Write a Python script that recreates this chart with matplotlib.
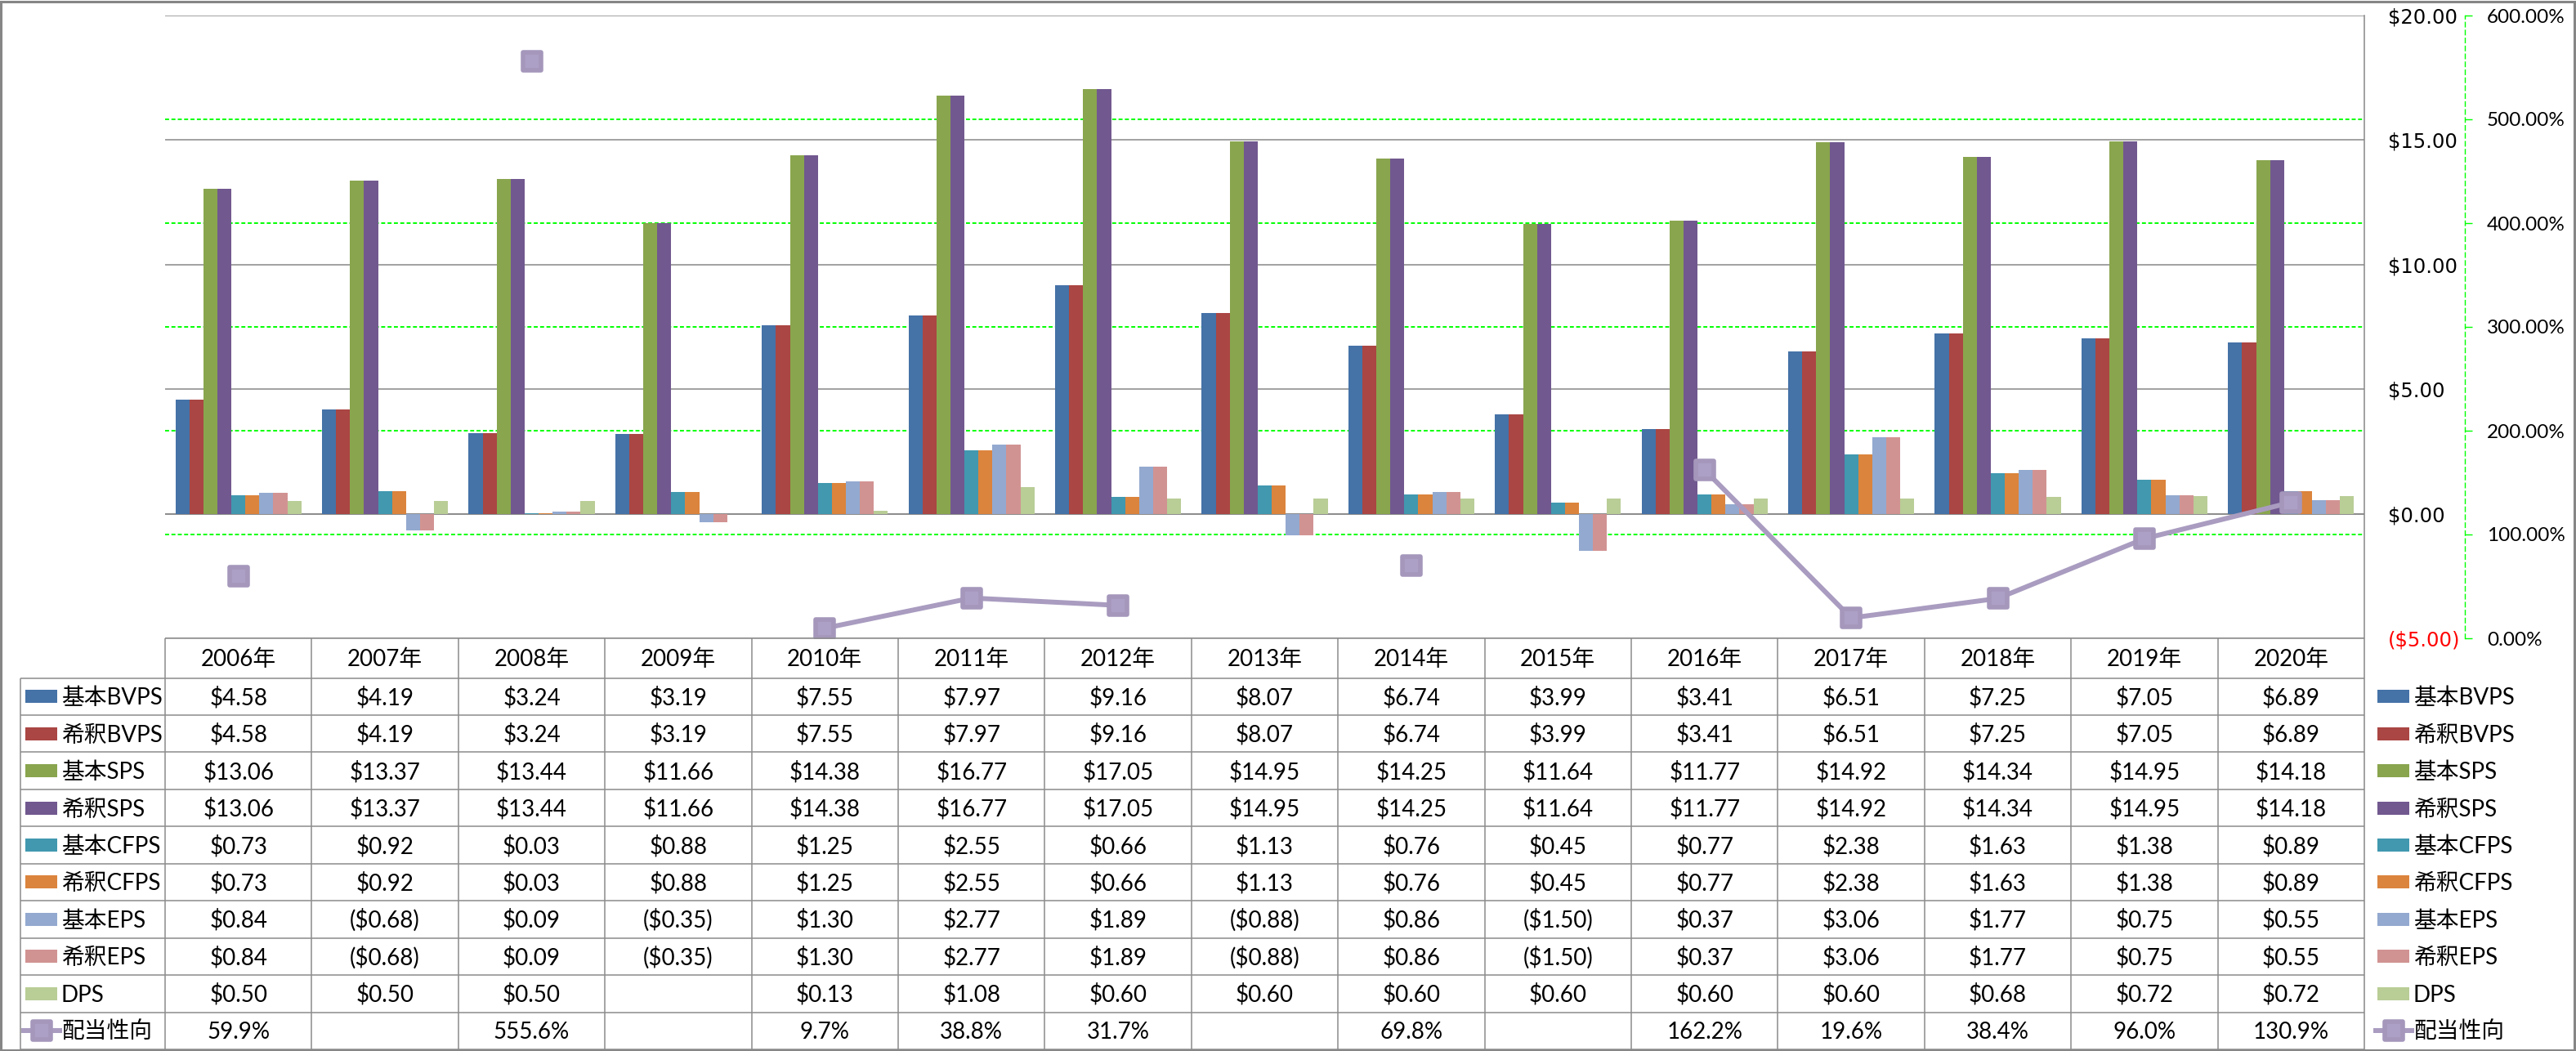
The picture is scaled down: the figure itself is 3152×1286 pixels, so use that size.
import numpy as np
import matplotlib.pyplot as plt
from matplotlib.markers import MarkerStyle
from matplotlib.patches import Rectangle

# ---------------------------
# Data
# ---------------------------
years = ["2006年", "2007年", "2008年", "2009年", "2010年", "2011年", "2012年", "2013年",
         "2014年", "2015年", "2016年", "2017年", "2018年", "2019年", "2020年"]

basic_bvps = [4.58, 4.19, 3.24, 3.19, 7.55, 7.97, 9.16, 8.07, 6.74, 3.99, 3.41, 6.51, 7.25, 7.05, 6.89]
diluted_bvps = [4.58, 4.19, 3.24, 3.19, 7.55, 7.97, 9.16, 8.07, 6.74, 3.99, 3.41, 6.51, 7.25, 7.05, 6.89]
basic_sps = [13.06, 13.37, 13.44, 11.66, 14.38, 16.77, 17.05, 14.95, 14.25, 11.64, 11.77, 14.92, 14.34, 14.95, 14.18]
diluted_sps = [13.06, 13.37, 13.44, 11.66, 14.38, 16.77, 17.05, 14.95, 14.25, 11.64, 11.77, 14.92, 14.34, 14.95, 14.18]
basic_cfps = [0.73, 0.92, 0.03, 0.88, 1.25, 2.55, 0.66, 1.13, 0.76, 0.45, 0.77, 2.38, 1.63, 1.38, 0.89]
diluted_cfps = [0.73, 0.92, 0.03, 0.88, 1.25, 2.55, 0.66, 1.13, 0.76, 0.45, 0.77, 2.38, 1.63, 1.38, 0.89]
basic_eps = [0.84, -0.68, 0.09, -0.35, 1.30, 2.77, 1.89, -0.88, 0.86, -1.50, 0.37, 3.06, 1.77, 0.75, 0.55]
diluted_eps = [0.84, -0.68, 0.09, -0.35, 1.30, 2.77, 1.89, -0.88, 0.86, -1.50, 0.37, 3.06, 1.77, 0.75, 0.55]
dps = [0.50, 0.50, 0.50, None, 0.13, 1.08, 0.60, 0.60, 0.60, 0.60, 0.60, 0.60, 0.68, 0.72, 0.72]
payout_pct = [59.9, None, 555.6, None, 9.7, 38.8, 31.7, None, 69.8, None, 162.2, 19.6, 38.4, 96.0, 130.9]

bar_names = ["基本BVPS", "希釈BVPS", "基本SPS", "希釈SPS", "基本CFPS", "希釈CFPS", "基本EPS", "希釈EPS", "DPS"]
bar_series = [basic_bvps, diluted_bvps, basic_sps, diluted_sps, basic_cfps, diluted_cfps,
              basic_eps, diluted_eps, dps]
line_name = "配当性向"

usd_ticks = [-5, 0, 5, 10, 15, 20]
pct_ticks = [0, 100, 200, 300, 400, 500, 600]

# ---------------------------
# Style
# ---------------------------
bar_colors = ["#4572A7", "#AA4643", "#89A54E", "#71588F", "#4198AF",
              "#DB843D", "#93A9CF", "#D19392", "#B9CD96"]
line_color = "#A99CC0"
grid_gray = "#878787"
green = "#00FF00"

plt.rcParams["font.family"] = ["Lato", "Noto Sans CJK JP"]

W, H = 3152, 1286
PX0, PX1 = 202, 2893          # plot / table columns, pixels
PY_TOP, PY_BOT = 19, 781      # plot area, pixels
HEAD_BOT = 829.5
TAB_BOT = 1284
PT = 0.72                     # points per pixel at dpi 100

fig = plt.figure(figsize=(W / 100, H / 100), dpi=100)
ax = fig.add_axes([PX0 / W, 1 - PY_BOT / H, (PX1 - PX0) / W, (PY_BOT - PY_TOP) / H])

n = len(years)
x = np.arange(n)
bw = 0.0954


def to_float(vals):
    return np.array([np.nan if v is None else v for v in vals], dtype=float)


def money(v):
    return f"(${-v:.2f})" if v < 0 else f"${v:.2f}"


for j, (name, vals) in enumerate(zip(bar_names, bar_series)):
    ax.bar(x + (j - 4) * bw, to_float(vals), width=bw, color=bar_colors[j], linewidth=0, zorder=3)

ax.set_xlim(-0.5, n - 0.5)
ax.set_ylim(usd_ticks[0], usd_ticks[-1])
ax.set_xticks([])
ax.set_axisbelow(True)
ax.yaxis.grid(True, color=grid_gray, lw=1.1)
# secondary gridlines sit behind the bars too
for p in pct_ticks[1:-1]:
    ax.axhline(usd_ticks[0] + (usd_ticks[-1] - usd_ticks[0]) * p / pct_ticks[-1],
               color=green, lw=1.4, dashes=(2.5, 1.5), zorder=1)
for s in ["top", "left", "bottom", "right"]:
    ax.spines[s].set_visible(False)
ax.axhline(0, color=grid_gray, lw=1.1, zorder=2)

# secondary axis: payout ratio
ax2 = ax.twinx()
mk = MarkerStyle("s", joinstyle="round")
mk_kw = dict(marker=mk, markersize=16, markerfacecolor="#ADA0C6",
             markeredgecolor="#A597BB", markeredgewidth=4)
ax2.plot(x, to_float(payout_pct), color=line_color, lw=4.3, zorder=5, **mk_kw)
ax2.set_ylim(pct_ticks[0], pct_ticks[-1])
ax2.set_yticks(pct_ticks, [f"{p:.2f}%" for p in pct_ticks])
ax2.tick_params(axis="y", direction="out", length=9 * PT, width=1, color=green,
                pad=(3043 - 3025) * PT, labelsize=17.5)
for lab in ax2.get_yticklabels():
    lab.set_fontfamily("DejaVu Sans")
for s in ["top", "left", "bottom"]:
    ax2.spines[s].set_visible(False)
ax2.spines["right"].set_position(("outward", (3016 - PX1) * PT))
ax2.spines["right"].set_color(green)
ax2.spines["right"].set_linewidth(1)
ax2.spines["right"].set_linestyle((0, (4, 3)))

# primary labels also on the right (after twinx, which moves them left)
ax.yaxis.tick_right()
ax.set_yticks(usd_ticks, [money(v) for v in usd_ticks])
ax.tick_params(axis="y", length=0, pad=(2922 - PX1) * PT, labelsize=17.5)
for lab in ax.get_yticklabels():
    lab.set_fontfamily("DejaVu Sans")
    if lab.get_text().startswith("("):
        lab.set_color("red")

# ---------------------------
# Data table + legends (pixel overlay)
# ---------------------------
ov = fig.add_axes([0, 0, 1, 1], zorder=10)
ov.set_xlim(0, W)
ov.set_ylim(H, 0)
ov.axis("off")
ov.patch.set_visible(False)

col_w = (PX1 - PX0) / n
row_names = bar_names + [line_name]
row_vals = bar_series + [payout_pct]
row_h = (TAB_BOT - HEAD_BOT) / len(row_names)
tab_kw = dict(color="#8C8C8C", lw=1.1, solid_capstyle="butt")
FS = 20
BASE = 10

ov.plot([PX0, PX1], [PY_BOT, PY_BOT], **tab_kw)
for k in range(len(row_names) + 1):
    yy = HEAD_BOT + k * row_h
    ov.plot([25, PX1], [yy, yy], **tab_kw)
ov.plot([25, 25], [HEAD_BOT, TAB_BOT], **tab_kw)
for c in range(n):
    xx = PX0 + c * col_w
    ov.plot([xx, xx], [PY_BOT, TAB_BOT], **tab_kw)
ov.plot([PX1, PX1], [PY_TOP, TAB_BOT], color=grid_gray, lw=1.1)

for c, yr in enumerate(years):
    ov.text(PX0 + (c + 0.5) * col_w, (PY_BOT + HEAD_BOT) / 2 + BASE, yr,
            ha="center", va="baseline", fontsize=FS)

for r, (name, vals) in enumerate(zip(row_names, row_vals)):
    yc = HEAD_BOT + (r + 0.5) * row_h
    is_line = name == line_name
    for c, v in enumerate(vals):
        if v is None:
            continue
        txt = f"{v:.1f}%" if is_line else money(v)
        ov.text(PX0 + (c + 0.5) * col_w, yc + BASE, txt, ha="center", va="baseline", fontsize=FS)
    # legend keys left and right
    for kx, tx in [(31, 75), (2909, 2953)]:
        if is_line:
            ov.plot([kx - 2, kx + 42], [yc, yc], color=line_color, lw=4.3)
            ov.plot([kx + 20], [yc], **mk_kw)
        else:
            ov.add_patch(Rectangle((kx, yc - 8), 39, 16, color=bar_colors[r], lw=0))
        ov.text(tx, yc + BASE, name, ha="left", va="baseline", fontsize=FS)

ov.add_patch(Rectangle((1.5, 1.5), W - 3, H - 3, fill=False, ec="#868686", lw=2.2))

fig.savefig("out.png", dpi=100)
